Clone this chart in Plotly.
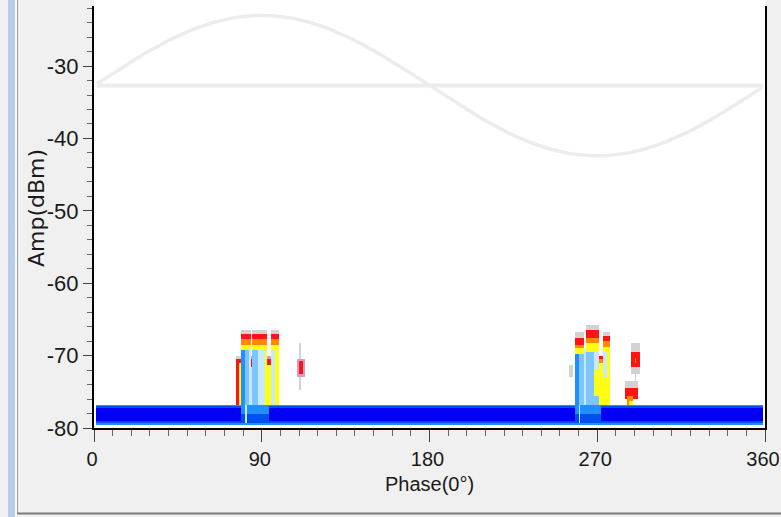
import numpy as np
import plotly.graph_objects as go

# ---------------- data ----------------
PHASE_RANGE = [0, 360]
AMP_RANGE = [-80, -21.7]
PHASE_TICKS = [0, 90, 180, 270, 360]
PHASE_TICK_LABELS = ["0", "90", "180", "270", "360"]
AMP_TICKS = [-80, -70, -60, -50, -40, -30]
AMP_TICK_LABELS = ["-80", "-70", "-60", "-50", "-40", "-30"]
PHASE_MINOR_STEP = 10
AMP_MINOR_STEP = 2
X_TITLE = "Phase(0°)"
Y_TITLE = "Amp(dBm)"

# reference sine (power-frequency phase reference)
SINE_CENTER_DBM = -32.7
SINE_AMPLITUDE_DB = 9.7

# density levels -> colours (low count = grey ... high count = deep blue)
LEVEL_COLORS = ["#d2d2d2", "#d69ad2", "#ff1414", "#ff8a00", "#ffff10",
                "#c8e8ff", "#7cc6ff", "#1e90ff", "#0050f0", "#0000f4"]

# cells: (phase_lo, phase_hi, amp_lo, amp_hi, level)
NOISE_BAND_CELLS = [
    (1, 359, -79.5, -76.75, 7),
    (1, 359, -79.25, -77.0, 8),
    (1, 359, -79.0, -77.25, 9),
]

CLUSTER_90_CELLS = [
    (76, 79, -70.5, -70.0, 0),
    (76, 78, -76.75, -70.5, 2),
    (78, 79, -71.0, -70.5, 2),
    (78, 79, -76.75, -71.0, 4),
    (79, 84, -67.0, -66.5, 0),
    (79, 84, -67.75, -67.0, 2),
    (79, 84, -68.5, -67.75, 3),
    (79, 84, -69.25, -68.5, 4),
    (79, 81, -76.75, -69.25, 7),
    (81, 83, -76.75, -69.25, 6),
    (83, 84, -76.75, -69.25, 5),
    (84, 85, -70.5, -70.0, 1),
    (84, 85, -71.5, -70.5, 2),
    (84, 85, -76.75, -71.5, 5),
    (85, 93, -67.0, -66.5, 0),
    (85, 93, -67.75, -67.0, 2),
    (85, 93, -68.5, -67.75, 3),
    (85, 93, -69.25, -68.5, 4),
    (85, 88, -76.75, -69.25, 6),
    (88, 92, -76.75, -69.25, 5),
    (92, 93, -76.75, -69.25, 4),
    (93, 95, -70.5, -70.0, 1),
    (93, 95, -71.25, -70.5, 2),
    (93, 95, -76.75, -71.25, 4),
    (95, 99, -67.0, -66.5, 0),
    (95, 99, -67.75, -67.0, 2),
    (95, 99, -68.5, -67.75, 3),
    (95, 97, -69.25, -68.5, 4),
    (95, 97, -76.75, -69.25, 5),
    (97, 99, -76.75, -68.5, 4),
    (79, 94, -78.0, -76.75, 7),
    (79, 94, -79.0, -78.0, 8),
    (81, 82, -79.25, -76.75, 5),
]

ISOLATED_110_CELLS = [
    (110, 111, -74.75, -68.25, 0),
    (109, 113, -73.0, -70.5, 1),
    (110, 112, -72.5, -70.75, 2),
]

CLUSTER_270_CELLS = [
    (255, 257, -73.0, -71.25, 0),
    (258, 263, -67.5, -66.75, 0),
    (258, 263, -68.5, -67.5, 2),
    (258, 263, -69.0, -68.5, 3),
    (258, 263, -69.75, -69.0, 4),
    (258, 260, -76.75, -69.75, 7),
    (260, 263, -76.75, -69.75, 6),
    (263, 264, -76.75, -69.25, 5),
    (264, 271, -66.5, -65.75, 0),
    (264, 271, -67.5, -66.5, 2),
    (264, 271, -68.25, -67.5, 3),
    (264, 271, -69.5, -68.25, 4),
    (264, 268, -76.75, -69.5, 6),
    (268, 271, -72.0, -69.5, 5),
    (268, 271, -75.5, -72.0, 4),
    (268, 271, -76.75, -75.5, 6),
    (271, 273, -70.5, -70.0, 2),
    (271, 273, -71.0, -70.5, 3),
    (271, 273, -76.75, -71.0, 4),
    (273, 277, -67.25, -66.75, 0),
    (273, 277, -68.0, -67.25, 2),
    (273, 277, -68.75, -68.0, 3),
    (273, 277, -76.75, -68.75, 4),
    (273, 275, -73.0, -69.5, 5),
    (258, 272, -78.0, -76.75, 7),
    (258, 272, -79.0, -78.0, 8),
    (260, 261, -79.25, -76.75, 5),
]

ISOLATED_290_CELLS = [
    (288, 293, -72.5, -68.25, 0),
    (288, 293, -71.5, -69.5, 2),
    (290, 291, -71.0, -70.25, 3),
    (290, 291, -73.5, -72.5, 0),
    (285, 292, -74.5, -73.5, 0),
    (285, 292, -76.0, -74.5, 2),
    (286, 289, -76.75, -75.5, 3),
    (287, 289, -76.75, -76.25, 4),
]

# ---------------- grid ----------------
PHASE_BIN = 1.0
AMP_BIN = 0.25
x_centers = np.arange(PHASE_RANGE[0] + PHASE_BIN / 2, PHASE_RANGE[1], PHASE_BIN)
y_centers = np.arange(-80 + AMP_BIN / 2, -64, AMP_BIN)
z = np.full((len(y_centers), len(x_centers)), np.nan)

for cells in (NOISE_BAND_CELLS, CLUSTER_90_CELLS, ISOLATED_110_CELLS,
              CLUSTER_270_CELLS, ISOLATED_290_CELLS):
    for p0, p1, a0, a1, lvl in cells:
        cm = (x_centers > p0) & (x_centers < p1)
        rm = (y_centers > a0) & (y_centers < a1)
        z[np.ix_(rm, cm)] = lvl

n = len(LEVEL_COLORS)
colorscale = []
for i, c in enumerate(LEVEL_COLORS):
    colorscale.append([i / n, c])
    colorscale.append([(i + 1) / n, c])

z_list = [[None if np.isnan(v) else float(v) for v in row] for row in z]

# sine reference
sine_x = np.arange(1.5, 359.0, 1.0)
sine_y = SINE_CENTER_DBM + SINE_AMPLITUDE_DB * np.sin(np.radians(sine_x))

fig = go.Figure()
fig.add_trace(go.Scatter(x=[1.5, 359], y=[SINE_CENTER_DBM, SINE_CENTER_DBM], mode="lines",
                         line=dict(color="#ececec", width=4), hoverinfo="skip", showlegend=False))
fig.add_trace(go.Scatter(x=sine_x, y=sine_y, mode="lines",
                         line=dict(color="#ececec", width=3.5), hoverinfo="skip", showlegend=False))
fig.add_trace(go.Heatmap(x=x_centers, y=y_centers, z=z_list, colorscale=colorscale,
                         zmin=-0.5, zmax=n - 0.5, showscale=False, hoverinfo="skip",
                         zsmooth=False))

W, H = 781, 517
L, R, T, B = 94, 16, 6, 89
pw, ph = W - L - R, H - T - B


def px_to_paper_x(px):
    return (px - L) / pw


def px_to_paper_y(py):
    return (H - B - py) / ph


narrow = "Liberation Sans Narrow, Arial Narrow, Liberation Sans, Arial"
ytick_font = dict(family=narrow, size=22, color="#1a1a1a")
xtick_font = dict(family=narrow, size=20, color="#1a1a1a")
xtitle_font = dict(family=narrow, size=20, color="#1a1a1a")
ytitle_font = dict(family="DejaVu Sans, Liberation Sans, Arial", size=22, color="#1a1a1a")

shapes = [
    dict(type="rect", xref="paper", yref="paper", x0=0, x1=1, y0=1, y1=px_to_paper_y(-2),
         fillcolor="white", line=dict(width=0), layer="below"),
    dict(type="rect", xref="paper", yref="paper", x0=px_to_paper_x(8), x1=px_to_paper_x(15),
         y0=px_to_paper_y(520), y1=px_to_paper_y(-2), fillcolor="#b6cfe9", line=dict(width=0)),
    dict(type="rect", xref="paper", yref="paper", x0=px_to_paper_x(15), x1=px_to_paper_x(17),
         y0=px_to_paper_y(520), y1=px_to_paper_y(-2), fillcolor="#f8f8f8", line=dict(width=0)),
    dict(type="line", xref="paper", yref="paper", x0=px_to_paper_x(17.5), x1=px_to_paper_x(17.5),
         y0=px_to_paper_y(514), y1=px_to_paper_y(-2), line=dict(color="#a0a0a0", width=1)),
    dict(type="line", xref="paper", yref="paper", x0=px_to_paper_x(17), x1=px_to_paper_x(790),
         y0=px_to_paper_y(513.5), y1=px_to_paper_y(513.5), line=dict(color="#7a7a7a", width=2)),
]

annotations = [
    dict(text=Y_TITLE, xref="paper", yref="paper", x=px_to_paper_x(37), y=px_to_paper_y(208),
         xanchor="center", yanchor="middle", textangle=-90, showarrow=False, font=ytitle_font),
]

fig.update_layout(
    width=W, height=H,
    margin=dict(l=L, r=R, t=T, b=B, pad=0, autoexpand=False),
    paper_bgcolor="#f0f0f0", plot_bgcolor="white",
    showlegend=False,
    shapes=shapes,
    annotations=annotations,
    xaxis=dict(range=PHASE_RANGE, tickmode="array", tickvals=PHASE_TICKS, ticktext=PHASE_TICK_LABELS,
               ticks="outside", ticklen=12, tickwidth=1, tickcolor="#444",
               showline=True, linecolor="black", linewidth=2, mirror=False, automargin=False,
               showgrid=False, zeroline=False, tickfont=xtick_font, ticklabeloverflow="allow",
               ticklabelshift=-2,
               minor=dict(tickmode="linear", tick0=0, dtick=PHASE_MINOR_STEP, ticks="outside",
                          ticklen=6, tickwidth=1, tickcolor="#666", showgrid=False),
               title=dict(text=X_TITLE, font=xtitle_font, standoff=8)),
    yaxis=dict(range=AMP_RANGE, tickmode="array", tickvals=AMP_TICKS, ticktext=AMP_TICK_LABELS,
               ticks="outside", ticklen=9, tickwidth=1, tickcolor="#444",
               showline=True, linecolor="black", linewidth=2, mirror=True, automargin=False,
               showgrid=False, zeroline=False, tickfont=ytick_font,
               minor=dict(tickmode="linear", tick0=-80, dtick=AMP_MINOR_STEP, ticks="outside",
                          ticklen=5, tickwidth=1, tickcolor="#666", showgrid=False)),
)

fig.write_html("out.html")
